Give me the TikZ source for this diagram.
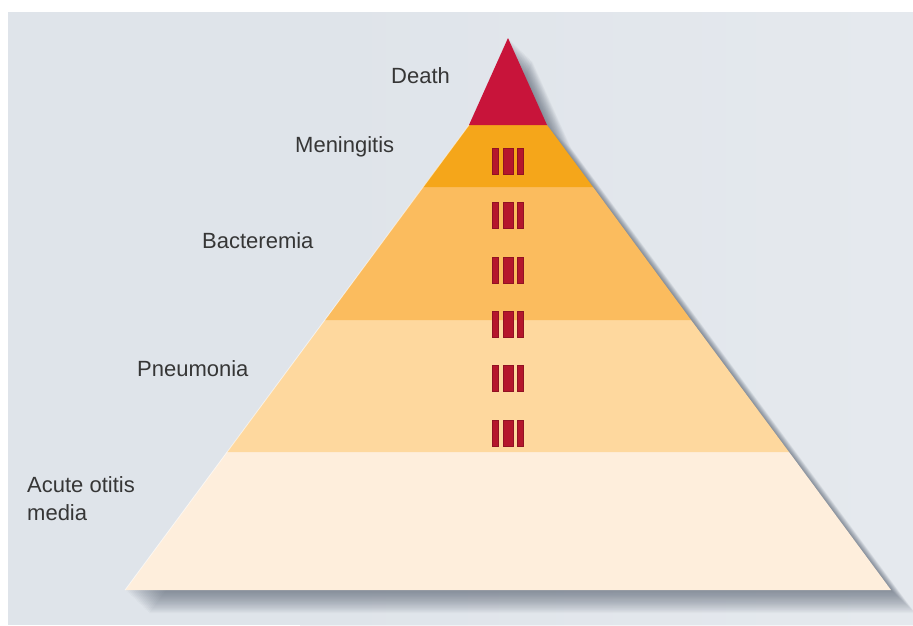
\documentclass[tikz,border=0pt]{standalone}
\usepackage{fontspec}
\setmainfont{Liberation Sans}
\definecolor{bgc}{HTML}{DFE4EA}
\definecolor{deathc}{HTML}{C8143A}
\definecolor{meningc}{HTML}{F5A61A}
\definecolor{bactc}{HTML}{FBBC5E}
\definecolor{pneuc}{HTML}{FED89E}
\definecolor{otitc}{HTML}{FEEEDC}
\definecolor{barc}{HTML}{B5162C}
\definecolor{txtc}{HTML}{363636}
\definecolor{shadc}{HTML}{4A5566}
\tikzset{
  lbl/.style={anchor=west, inner sep=0pt, text=txtc, font=\fontsize{22}{28}\selectfont, align=left},
  barbox/.style={fill=barc, draw=barc!80!black, line width=0.4pt},
}
\begin{document}
\begin{tikzpicture}[x=1pt,y=-1pt]
\useasboundingbox (0,0) rectangle (913,625);
\fill[white] (0,0) rectangle (913,625);
\fill[bgc] (8,12) rectangle (913,625);
\shade[left color=bgc, right color=bgc!60!white, opacity=0.5] (300,12) rectangle (913,625);
% shadow
\foreach \i in {1,...,20}{
  \fill[shadc, opacity=0.04] ([shift={(\i*1.2,\i*1.15)}]508,38) -- ([shift={(\i*1.2,\i*1.15)}]547,125)
     -- ([shift={(\i*1.2,\i*1.15)}]891,590) -- ([shift={(\i*1.2,\i*1.15)}]125,590)
     -- ([shift={(\i*1.2,\i*1.15)}]469,125) -- cycle;
}
% bands
\fill[otitc] (227,452) -- (789,452) -- (891,590) -- (125,590) -- cycle;
\fill[pneuc] (325,320) -- (691,320) -- (789,452) -- (227,452) -- cycle;
\fill[bactc] (423,187) -- (593,187) -- (691,320) -- (325,320) -- cycle;
\fill[meningc] (469,125) -- (547,125) -- (593,187) -- (423,187) -- cycle;
\fill[deathc] (508,38) -- (547,125) -- (469,125) -- cycle;
\draw[white, opacity=0.6, line width=0.8pt] (469,125) -- (125,590);
% bars
\foreach \c [count=\k] in {161,215,270,324,378,433}{
  \filldraw[barbox] (492,\c-13) rectangle (498,\c+13);
  \filldraw[barbox] (503,\c-13) rectangle (513,\c+13);
  \filldraw[barbox] (517,\c-13) rectangle (523,\c+13);
}
% labels
\node[lbl] (death) at (391,76) {Death};
\node[lbl] (mening) at (295,147) {Meningitis};
\node[lbl] (bact) at (202,241) {Bacteremia};
\node[lbl] (pneu) at (137,369) {Pneumonia};
\node[lbl] (otit) at (27,499) {Acute otitis\\media};
\end{tikzpicture}
\end{document}
